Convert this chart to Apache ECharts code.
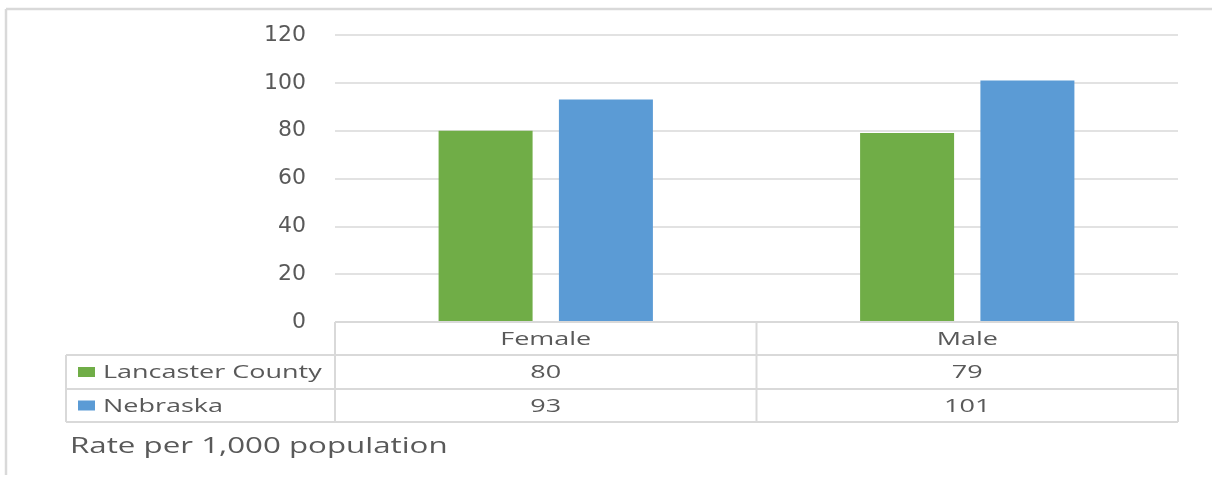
<!DOCTYPE html>
<html>
<head>
<meta charset="utf-8">
<script src="https://cdn.jsdelivr.net/npm/echarts@6/dist/echarts.min.js"></script>
<style>
  html, body { margin: 0; padding: 0; background: #fff; }
  #chart { width: 1212px; height: 478px; }
</style>
</head>
<body>
<div id="chart"></div>
<script>
// Data
var categories = ['Female', 'Male'];
var seriesNames = ['Lancaster County', 'Nebraska'];
var lancaster = [80, 79];
var nebraska = [93, 101];
var yTicks = [0, 20, 40, 60, 80, 100, 120];
var footnote = 'Rate per 1,000 population';

// Layout
var W = 1212, H = 478;
var plotLeft = 335, plotRight = 1178, plotTop = 35, plotBottom = 322;
var rowH = [33, 34, 33];            // header row, series rows
var tableLeft = 66;
var colors = ['#70AD47', '#5B9BD5'];
var lineColor = '#D9D9D9';
var textColor = '#595959';
var fontFamily = '"Open Sans", "Noto Sans", sans-serif';
var stretch = 1.42;

var chart = echarts.init(document.getElementById('chart'), null, { renderer: 'canvas' });

var option = {
  animation: false,
  backgroundColor: '#fff',
  grid: { left: plotLeft, right: W - plotRight, top: plotTop, bottom: H - plotBottom, containLabel: false },
  xAxis: {
    type: 'category',
    data: categories,
    axisLine: { show: false },
    axisTick: { show: false },
    axisLabel: { show: false }
  },
  yAxis: {
    type: 'value',
    min: yTicks[0],
    max: yTicks[yTicks.length - 1],
    interval: yTicks[1] - yTicks[0],
    axisLine: { show: false },
    axisTick: { show: false },
    axisLabel: { color: textColor, fontSize: 22, fontFamily: 'DejaVu Sans', margin: 29 },
    splitLine: { lineStyle: { color: lineColor, width: 1.5 } }
  },
  series: [
    { name: seriesNames[0], type: 'bar', data: lancaster, barWidth: 94, barGap: '28%',
      itemStyle: { color: colors[0] } },
    { name: seriesNames[1], type: 'bar', data: nebraska, barWidth: 94,
      itemStyle: { color: colors[1] } }
  ]
};
chart.setOption(option);

// Data table under the axis plus outer frame and footnote
function buildGraphics() {
  var g = [];
  var y0 = plotBottom, y1 = y0 + rowH[0], y2 = y1 + rowH[1], y3 = y2 + rowH[2];
  var colW = (plotRight - plotLeft) / categories.length;
  function line(x1, yA, x2, yB, w) {
    g.push({ type: 'line', shape: { x1: x1, y1: yA, x2: x2, y2: yB },
      style: { stroke: lineColor, lineWidth: w || 2 }, z: 10 });
  }
  function text(str, x, y, align, size, sx) {
    g.push({ type: 'text', x: x, y: y, scaleX: sx || stretch, z: 11,
      style: { text: str, fill: textColor, font: (size || 19) + 'px ' + fontFamily,
        align: align, verticalAlign: 'middle', textAlign: align, textVerticalAlign: 'middle' } });
  }
  // outer frame
  line(6, 9, W, 9, 2.5);
  line(6, 9, 6, H - 3, 2.5);
  // horizontal table rules
  line(plotLeft, y0, plotRight, y0);
  line(tableLeft, y1, plotRight, y1);
  line(tableLeft, y2, plotRight, y2);
  line(tableLeft, y3, plotRight, y3);
  // vertical table rules
  line(tableLeft, y1, tableLeft, y3);
  for (var c = 0; c <= categories.length; c++) {
    var x = plotLeft + c * colW;
    line(x, y0, x, y3);
  }
  // header and values
  var rows = [lancaster, nebraska];
  categories.forEach(function (cat, i) {
    var cx = chart.convertToPixel({ xAxisIndex: 0 }, cat);
    text(cat, cx, (y0 + y1) / 2 + 1, 'center');
    rows.forEach(function (vals, r) {
      var yc = r === 0 ? (y1 + y2) / 2 + 1 : (y2 + y3) / 2 + 1;
      text(String(vals[i]), cx, yc, 'center');
    });
  });
  // legend keys in the row headers
  seriesNames.forEach(function (name, r) {
    var yc = r === 0 ? (y1 + y2) / 2 : (y2 + y3) / 2;
    g.push({ type: 'rect', shape: { x: 78, y: yc - 5, width: 17, height: 10 },
      style: { fill: colors[r] }, z: 11 });
    text(name, 103, yc + 1, 'left');
  });
  // footnote
  text(footnote, 70, 447, 'left', 21, 1.49);
  return g;
}
chart.setOption({ graphic: buildGraphics() });
</script>
</body>
</html>
